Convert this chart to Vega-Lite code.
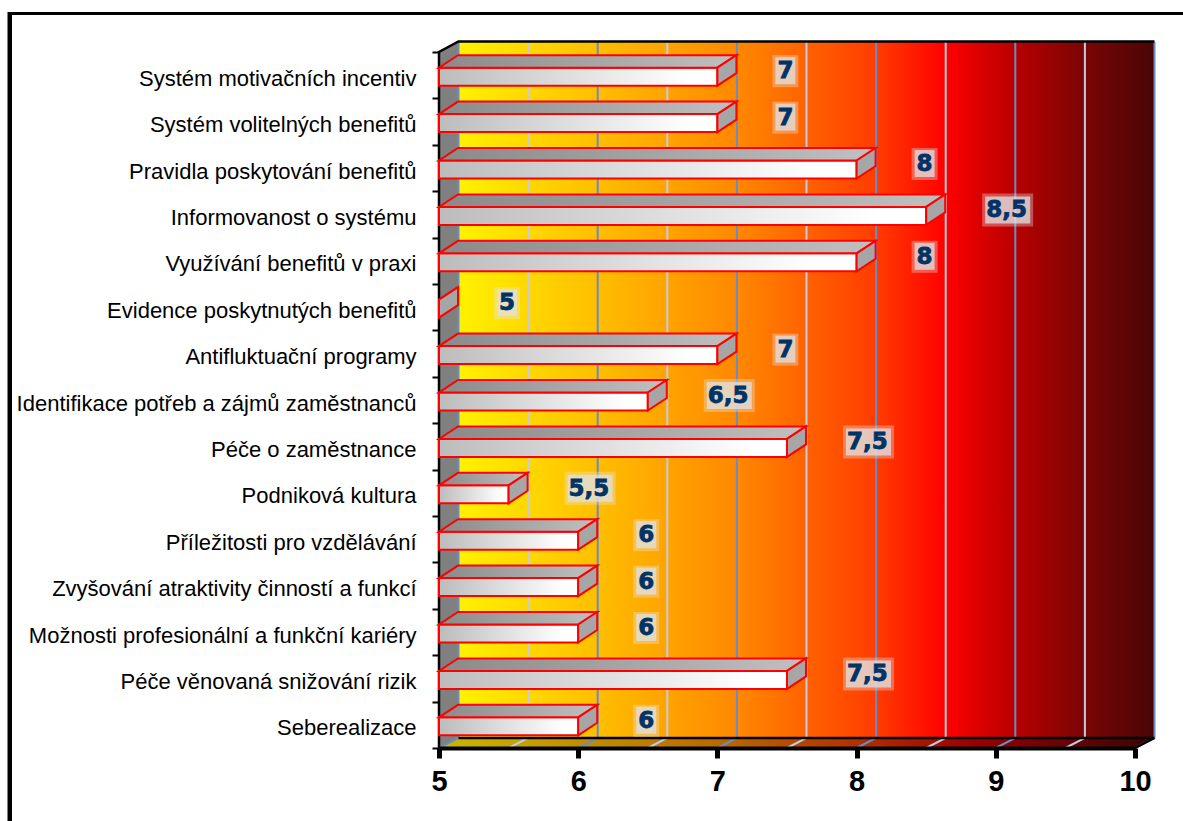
{
"$schema":"https://vega.github.io/schema/vega-lite/v6.json",
"width":696,"height":696,
"autosize":{"type":"none"},
"padding":{"left":439,"top":52,"right":48,"bottom":73},
"background":"white",
"config":{"view":{"stroke":null}},
"datasets":{
"hodnoty":[
{"oblast":"Systém motivačních incentiv","hodnota":7,"popisek":"7"},
{"oblast":"Systém volitelných benefitů","hodnota":7,"popisek":"7"},
{"oblast":"Pravidla poskytování benefitů","hodnota":8,"popisek":"8"},
{"oblast":"Informovanost o systému","hodnota":8.5,"popisek":"8,5"},
{"oblast":"Využívání benefitů v praxi","hodnota":8,"popisek":"8"},
{"oblast":"Evidence poskytnutých benefitů","hodnota":5,"popisek":"5"},
{"oblast":"Antifluktuační programy","hodnota":7,"popisek":"7"},
{"oblast":"Identifikace potřeb a zájmů zaměstnanců","hodnota":6.5,"popisek":"6,5"},
{"oblast":"Péče o zaměstnance","hodnota":7.5,"popisek":"7,5"},
{"oblast":"Podniková kultura","hodnota":5.5,"popisek":"5,5"},
{"oblast":"Příležitosti pro vzdělávání","hodnota":6,"popisek":"6"},
{"oblast":"Zvyšování atraktivity činností a funkcí","hodnota":6,"popisek":"6"},
{"oblast":"Možnosti profesionální a funkční kariéry","hodnota":6,"popisek":"6"},
{"oblast":"Péče věnovaná snižování rizik","hodnota":7.5,"popisek":"7,5"},
{"oblast":"Seberealizace","hodnota":6,"popisek":"6"}
],
"mrizka":[{"g":5},{"g":5.5},{"g":6},{"g":6.5},{"g":7},{"g":7.5},{"g":8},{"g":8.5},{"g":9},{"g":9.5},{"g":10}],
"kotva":[{"g":5}]
},
"layer":[
{"data":{"name":"kotva"},
 "mark":{"type":"point","filled":true,"opacity":1,"size":4,"stroke":null,"fill":"#808080","shape":"M0,348L19.5,338L19.5,-358L0,-348Z"},
 "encoding":{"x":{"field":"g","type":"quantitative"}}},
{"data":{"name":"kotva"},
 "mark":{"type":"point","filled":true,"opacity":1,"size":4,"stroke":null,
  "fill":{"gradient":"linear","x1":0,"y1":0,"x2":1,"y2":0,"stops":[
   {"offset":0,"color":"#fff200"},{"offset":0.2,"color":"#ffbe00"},{"offset":0.4,"color":"#ff8800"},{"offset":0.6,"color":"#ff3c00"},{"offset":0.7,"color":"#ff0000"},{"offset":0.8,"color":"#b80000"},{"offset":0.9,"color":"#7a0505"},{"offset":1,"color":"#4a0505"}]},
  "shape":"M19.5,338L19.5,-358L715.5,-358L715.5,338Z"},
 "encoding":{"x":{"field":"g","type":"quantitative"}}},
{"data":{"name":"kotva"},
 "mark":{"type":"point","filled":true,"opacity":1,"size":4,"stroke":null,
  "fill":{"gradient":"linear","x1":0,"y1":0,"x2":1,"y2":0,"stops":[
   {"offset":0,"color":"#ccb800"},{"offset":0.2,"color":"#bf9000"},{"offset":0.4,"color":"#b86800"},{"offset":0.6,"color":"#b02c00"},{"offset":0.75,"color":"#980000"},{"offset":1,"color":"#3a0505"}]},
  "shape":"M0,348L19.5,338L715.5,338L696,348Z"},
 "encoding":{"x":{"field":"g","type":"quantitative"}}},
{"data":{"name":"mrizka"},
 "mark":{"type":"point","filled":false,"opacity":1,"size":4,"strokeWidth":2,"shape":"M0,348L19.5,338L19.5,-358"},
 "encoding":{"x":{"field":"g","type":"quantitative"},
  "stroke":{"condition":{"test":"datum.g % 1 == 0","value":"#6a8cc4"},"value":"#c4cbe0"}}},
{"data":{"name":"kotva"},
 "mark":{"type":"point","filled":false,"opacity":1,"size":4,"stroke":"#000000","strokeWidth":2.5,"shape":"M0,348L0,-348L19.5,-358.5L715.5,-358.5M19.5,338L715.5,338M696,348L715.5,338"},
 "encoding":{"x":{"field":"g","type":"quantitative"}}},
{"data":{"name":"kotva"},
 "mark":{"type":"point","filled":true,"opacity":1,"size":4,"stroke":null,"fill":"#000000","shape":"M-431.5,421L-431.5,-388L744,-388L744,-385L-427,-385L-427,421Z"},
 "encoding":{"x":{"field":"g","type":"quantitative"}}},
{"data":{"name":"hodnoty"},
 "mark":{"type":"bar","height":18,"yOffset":1.5,"stroke":"#ff0000","strokeWidth":2,
  "fill":{"gradient":"linear","x1":0,"y1":0,"x2":1,"y2":0,"stops":[{"offset":0,"color":"#bcbcbc"},{"offset":0.9,"color":"#ffffff"},{"offset":1,"color":"#ffffff"}]}},
 "encoding":{
  "x":{"field":"hodnota","type":"quantitative","scale":{"domain":[5,10],"nice":false,"zero":false},
   "axis":{"title":null,"values":[5,6,7,8,9,10],"format":"d","grid":false,"domainColor":"#000000","domainWidth":4,"tickColor":"#000000","tickWidth":5,"tickSize":10,"labelFont":"Liberation Sans","labelFontSize":29,"labelFontWeight":"bold","labelColor":"#000000","labelPadding":9,"labelFlush":false,"labelOverlap":false,"zindex":1}},
  "x2":{"datum":5},
  "y":{"field":"oblast","type":"nominal","sort":null,"scale":{"type":"band","paddingInner":0,"paddingOuter":0},
   "axis":{"title":null,"tickBand":"extent","tickExtra":true,"domainColor":"#000000","domainWidth":3,"tickColor":"#000000","tickWidth":2,"tickSize":7,"labelFont":"Liberation Sans","labelFontSize":22,"labelColor":"#000000","labelPadding":16,"labelOffset":3,"labelLimit":0,"grid":false,"labelOverlap":false}}}},
{"data":{"name":"hodnoty"},
 "mark":{"type":"point","filled":true,"opacity":1,"size":4,"stroke":"#ff0000","strokeWidth":2,
  "fill":{"gradient":"linear","x1":0,"y1":0,"x2":1,"y2":0,"stops":[{"offset":0,"color":"#8a8a8a"},{"offset":1,"color":"#c0c0c0"}]},
  "shape":{"expr":"'M0,-7.5L'+scale('x',datum.hodnota)+',-7.5L'+(scale('x',datum.hodnota)+19)+',-20L19,-20Z'"}},
 "encoding":{"x":{"datum":5,"type":"quantitative"},"y":{"field":"oblast","type":"nominal","sort":null}}},
{"data":{"name":"hodnoty"},
 "mark":{"type":"point","filled":true,"opacity":1,"size":4,"stroke":"#ff0000","strokeWidth":2,"fill":"#a6a6a6","shape":"M0,-7.5L19,-20L19,-2L0,10.5Z"},
 "encoding":{"x":{"field":"hodnota","type":"quantitative"},"y":{"field":"oblast","type":"nominal","sort":null}}},
{"data":{"name":"hodnoty"},
 "mark":{"type":"point","filled":true,"opacity":0.35,"size":4,"stroke":null,"fill":"#e4e4e4",
  "shape":{"expr":"length(datum.popisek)>1?'M56,-21L107,-21L107,12L56,12Z':'M55,-20L81,-20L81,12L55,12Z'"}},
 "encoding":{"x":{"field":"hodnota","type":"quantitative"},"y":{"field":"oblast","type":"nominal","sort":null}}},
{"data":{"name":"hodnoty"},
 "mark":{"type":"point","filled":true,"opacity":0.75,"size":4,"stroke":null,"fill":"#e0e0e0",
  "shape":{"expr":"length(datum.popisek)>1?'M59,-18L104,-18L104,9L59,9Z':'M58,-18L78,-18L78,9L58,9Z'"}},
 "encoding":{"x":{"field":"hodnota","type":"quantitative"},"y":{"field":"oblast","type":"nominal","sort":null}}},
{"data":{"name":"hodnoty"},
 "mark":{"type":"text","align":"left","baseline":"middle","dx":60,"dy":-4,"font":"DejaVu Sans","fontWeight":"bold","fontSize":23,"fill":"#003366","stroke":"#003366","strokeWidth":0.8},
 "encoding":{"x":{"field":"hodnota","type":"quantitative"},"y":{"field":"oblast","type":"nominal","sort":null},"text":{"field":"popisek"}}}
]
}
